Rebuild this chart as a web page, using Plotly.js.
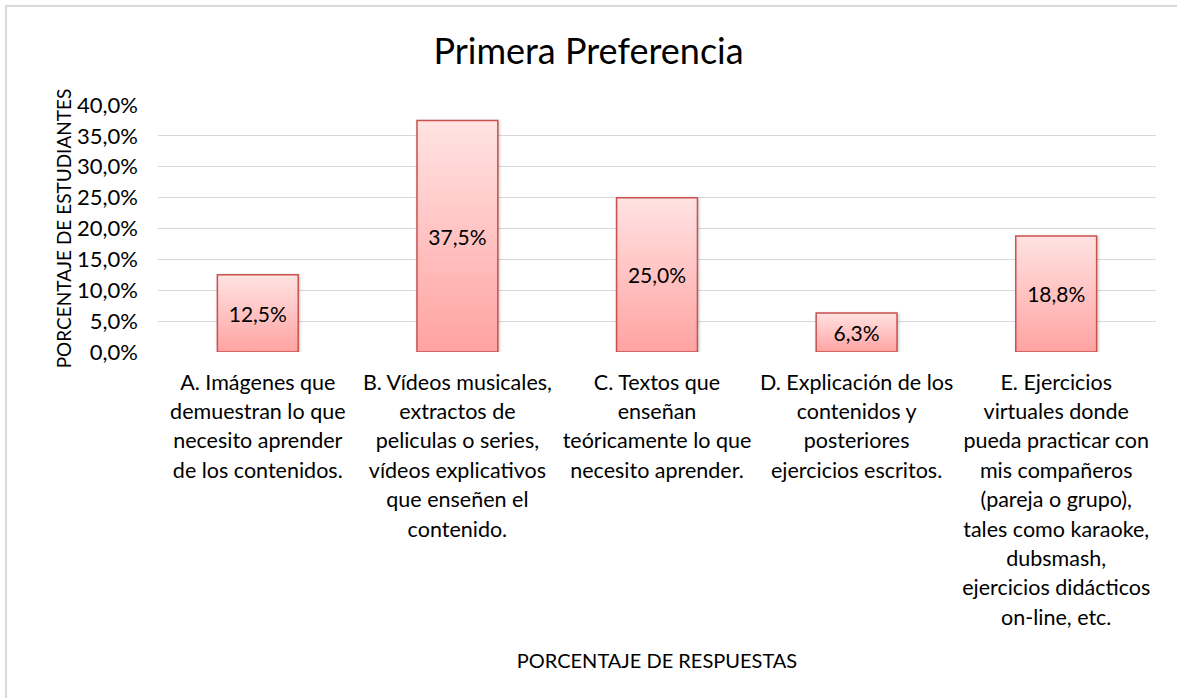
<!DOCTYPE html>
<html>
<head>
<meta charset="utf-8">
<script src="https://cdn.plot.ly/plotly-3.0.1.min.js"></script>
<style>
  html, body { margin: 0; padding: 0; background: #ffffff; overflow: hidden; width: 1177px; height: 698px; }
  #frameTop { position: absolute; left: 5px; top: 5px; width: 1172px; height: 2px; background: #D9D9D9; }
  #frameLeft { position: absolute; left: 5px; top: 5px; width: 2px; height: 693px; background: #D9D9D9; }
  #chart { position: absolute; left: 0; top: 0; width: 1177px; height: 698px; }
</style>
</head>
<body>
<div id="frameTop"></div>
<div id="frameLeft"></div>
<div id="chart"></div>
<script>
// ---- data ----
const categories = [
  "A. Imágenes que<br>demuestran lo que<br>necesito aprender<br>de los contenidos.",
  "B. Vídeos musicales,<br>extractos de<br>peliculas o series,<br>vídeos explicativos<br>que enseñen el<br>contenido.",
  "C. Textos que<br>enseñan<br>teóricamente lo que<br>necesito aprender.",
  "D. Explicación de los<br>contenidos y<br>posteriores<br>ejercicios escritos.",
  "E. Ejercicios<br>virtuales donde<br>pueda practicar con<br>mis compañeros<br>(pareja o grupo),<br>tales como karaoke,<br>dubsmash,<br>ejercicios didácticos<br>on-line, etc."
];
const percentages = [12.5, 37.5, 25.0, 6.3, 18.8];
const chartTitle = "Primera Preferencia";
const yTitle = "PORCENTAJE DE ESTUDIANTES";
const xTitle = "PORCENTAJE DE RESPUESTAS";

const FONT = "Lato, 'Open Sans', sans-serif";
const LABEL_SIZE = 21.5;

const trace = {
  type: "bar",
  x: categories,
  y: percentages,
  width: 0.405,
  marker: { color: "#FFC4C3", line: { color: "#C9524F", width: 1.5 } },
  texttemplate: "%{y:.1f}%",
  textposition: "inside",
  insidetextanchor: "middle",
  constraintext: "none",
  textangle: 0,
  textfont: { family: FONT, size: 21, color: "#000000" },
  hoverinfo: "skip"
};

const layout = {
  width: 1177, height: 698,
  paper_bgcolor: "rgba(0,0,0,0)",
  plot_bgcolor: "rgba(0,0,0,0)",
  separators: ",.",
  margin: { l: 158, r: 21, t: 105, b: 346 },
  font: { family: FONT, color: "#000000", size: LABEL_SIZE },
  showlegend: false,
  title: { text: chartTitle, font: { family: FONT, size: 36, color: "#000000" },
           x: 0.5, xanchor: "center", y: 0.927, yanchor: "middle" },
  xaxis: {
    type: "category",
    showgrid: false, zeroline: false, showline: false, ticks: "",
    tickfont: { family: FONT, size: LABEL_SIZE, color: "#000000" },
    ticklabelstandoff: 15,
    title: { text: xTitle, font: { family: FONT, size: 20, color: "#000000" }, standoff: 36 }
  },
  yaxis: {
    range: [0, 40], dtick: 5, tick0: 0,
    tickformat: ".1f", ticksuffix: "%",
    showgrid: true, gridcolor: "#D9D9D9", gridwidth: 1.2,
    zeroline: false, showline: false, ticks: "",
    tickfont: { family: FONT, size: 22, color: "#000000" },
    ticklabelstandoff: 19,
    title: { text: yTitle, font: { family: FONT, size: 19, color: "#000000" }, standoff: 0 }
  }
};

Plotly.newPlot("chart", [trace], layout, { displayModeBar: false, staticPlot: true }).then(function (gd) {
  const svg = gd.querySelector("svg.main-svg");
  const NS = "http://www.w3.org/2000/svg";
  let defs = svg.querySelector("defs");
  if (!defs) { defs = document.createElementNS(NS, "defs"); svg.insertBefore(defs, svg.firstChild); }
  const grad = document.createElementNS(NS, "linearGradient");
  grad.setAttribute("id", "barGrad");
  grad.setAttribute("x1", "0"); grad.setAttribute("y1", "0");
  grad.setAttribute("x2", "0"); grad.setAttribute("y2", "1");
  [["0", "#FFE3E2"], ["1", "#FFA3A2"]].forEach(function (s) {
    const st = document.createElementNS(NS, "stop");
    st.setAttribute("offset", s[0]); st.setAttribute("stop-color", s[1]);
    grad.appendChild(st);
  });
  defs.appendChild(grad);
  gd.querySelectorAll(".barlayer .point path").forEach(function (p) {
    p.style.fill = "url(#barGrad)";
    p.style.filter = "drop-shadow(1.5px 1.5px 1.5px rgba(0,0,0,0.22))";
  });
  // Excel-like line spacing for multi-line category labels
  const LINE = 29.4;
  gd.querySelectorAll(".xtick text").forEach(function (t) {
    t.querySelectorAll("tspan.line").forEach(function (ts, i) {
      ts.setAttribute("dy", (i * LINE) + "px");
    });
  });
});
</script>
</body>
</html>
